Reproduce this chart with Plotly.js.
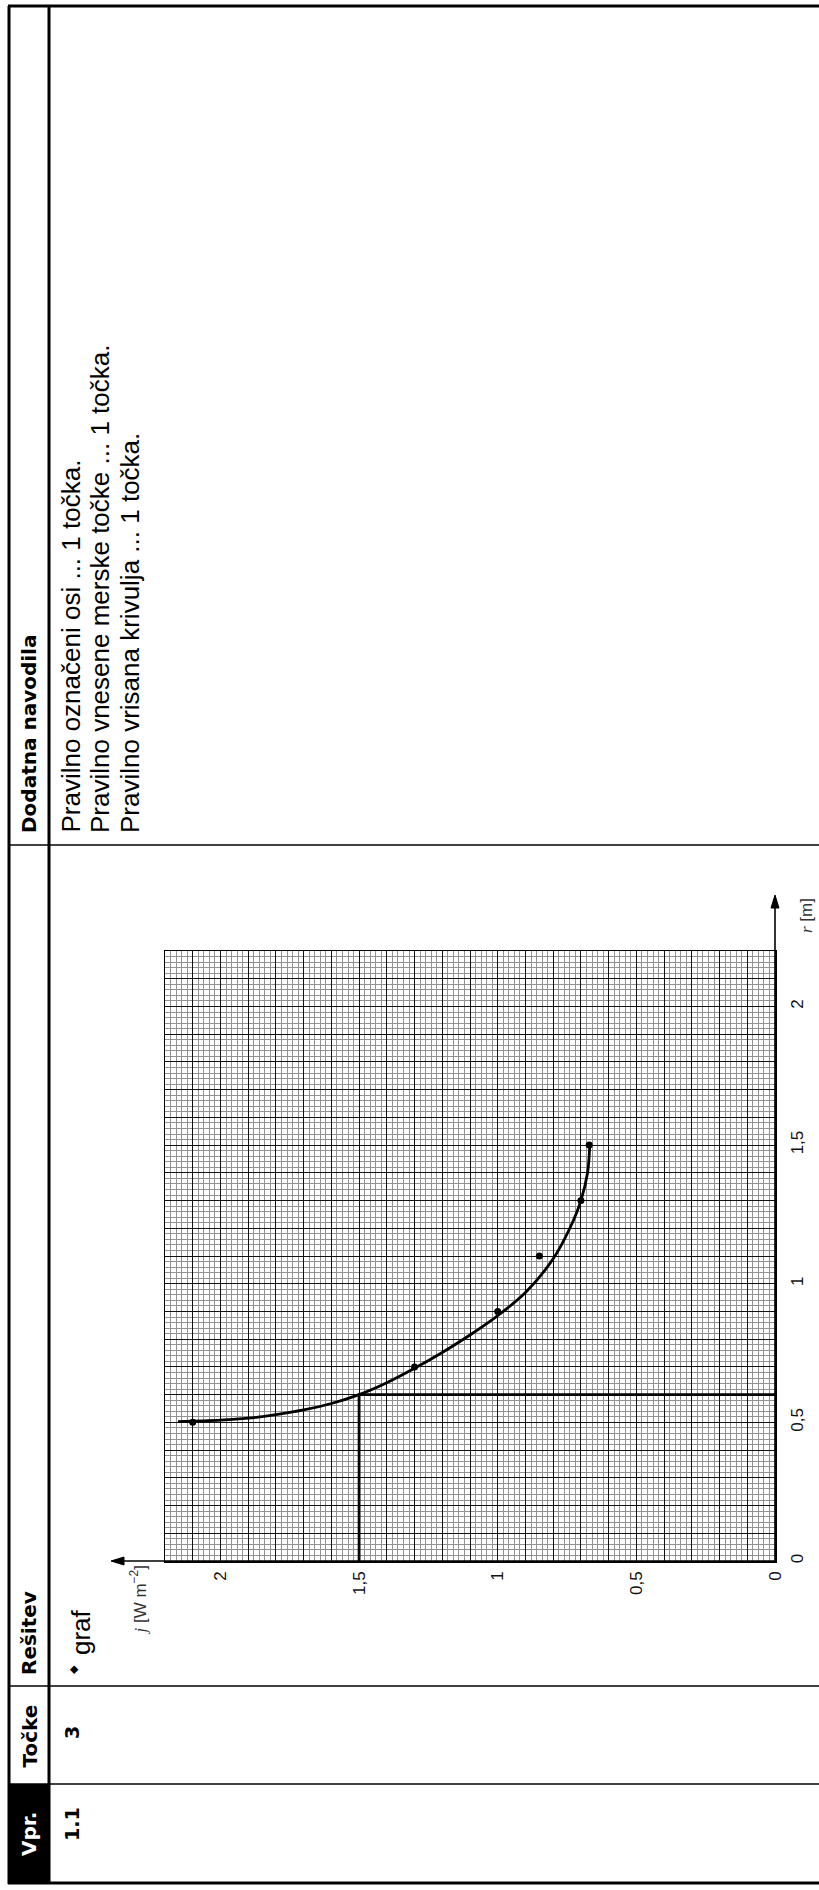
<!DOCTYPE html>
<html>
<head>
<meta charset="utf-8">
<script src="https://cdn.plot.ly/plotly-3.0.1.min.js"></script>
<style>
html,body{margin:0;padding:0;background:#fff;}
#chart{width:819px;height:1890px;}
</style>
</head>
<body>
<div id="chart"></div>
<script>
// ---------- data ----------
const pointR = [0.5, 0.7, 0.9, 1.1, 1.3, 1.5];
const pointJ = [2.1, 1.3, 1.0, 0.85, 0.7, 0.67];

const curveR = [0.503, 0.508, 0.515, 0.528, 0.545, 0.568, 0.60, 0.643, 0.695, 0.752, 0.815, 0.885, 0.968, 1.09, 1.20, 1.30, 1.40, 1.48, 1.504];
const curveJ = [2.153, 2.0, 1.9, 1.8, 1.7, 1.6, 1.5, 1.4, 1.3, 1.2, 1.1, 1.0, 0.9, 0.8, 0.74, 0.70, 0.676, 0.669, 0.668];

const guideR = [0, 0.6, 0.6];
const guideJ = [1.5, 1.5, 0];

const jTickVals = [0, 0.5, 1, 1.5, 2];
const jTickText = ['0', '0,5', '1', '1,5', '2'];
const rTickVals = [0, 0.5, 1, 1.5, 2];
const rTickText = ['0', '0,5', '1', '1,5', '2'];

const headerLabels = ['Vpr.', 'Točke', 'Rešitev', 'Dodatna navodila'];
const rowLabels = ['1.1', '3'];
const solutionLabel = 'graf';
const notes = [
  'Pravilno označeni osi ... 1 točka.',
  'Pravilno vnesene merske točke ... 1 točka.',
  'Pravilno vrisana krivulja ... 1 točka.'
];
const jTitle = '<span style="font-family:Liberation Serif"><i>j</i></span> [W m<sup>−2</sup>]';
const rTitle = '<span style="font-family:Liberation Serif"><i>r</i></span> [m]';

// ---------- layout helpers (pixel -> paper) ----------
const W = 819, H = 1890;
const px = v => v / W;
const py = v => 1 - v / H;

const SANS = 'Liberation Sans, Arial, sans-serif';
const BOLD = 'DejaVu Sans, sans-serif';

const traces = [
  {x: guideJ, y: guideR, mode: 'lines', line: {color: '#000', width: 2.8}, hoverinfo: 'skip', xaxis: 'x', yaxis: 'y'},
  {x: curveJ, y: curveR, mode: 'lines', line: {color: '#000', width: 2.8, shape: 'spline', smoothing: 1}, hoverinfo: 'skip', xaxis: 'x', yaxis: 'y'},
  {x: pointJ, y: pointR, mode: 'markers', marker: {color: '#000', size: 7}, hoverinfo: 'skip', xaxis: 'x2', yaxis: 'y2'}
];

const gridAxis = {
  dtick: 0.1, tick0: 0, showgrid: true, gridcolor: '#111', gridwidth: 1,
  minor: {dtick: 0.02, tick0: 0, showgrid: true, gridcolor: '#929292', gridwidth: 1},
  showticklabels: false, ticks: '', zeroline: false,
  showline: true, linecolor: '#000', linewidth: 1.5, mirror: true, fixedrange: true
};

const xDom = [px(165), px(775)];
const yDom = [py(1561), py(951)];

const ann = (text, x, y, o) => Object.assign({
  text: text, xref: 'paper', yref: 'paper', x: px(x), y: py(y),
  showarrow: false, textangle: -90, xanchor: 'center', yanchor: 'bottom'
}, o || {});

const headFont = {family: BOLD, size: 20, color: '#000', weight: 'bold'};
const bodyFont = {family: SANS, size: 26, color: '#000'};

const annotations = [
  ann(headerLabels[0], 29, 1858, {font: Object.assign({}, headFont, {color: '#fff'})}),
  ann(headerLabels[1], 29, 1770, {font: headFont}),
  ann(headerLabels[2], 29, 1677, {font: headFont}),
  ann(headerLabels[3], 29, 835, {font: headFont}),
  ann(rowLabels[0], 72, 1843, {font: Object.assign({}, headFont, {size: 19})}),
  ann(rowLabels[1], 72, 1733, {font: Object.assign({}, headFont, {size: 19}), yanchor: 'middle'}),
  ann('◆', 73, 1670, {font: {family: 'DejaVu Sans', size: 11, color: '#000'}, yanchor: 'middle'}),
  ann(solutionLabel, 81, 1657, {font: bodyFont}),
  ann(notes[0], 70, 835, {font: bodyFont}),
  ann(notes[1], 100, 835, {font: bodyFont}),
  ann(notes[2], 130, 835, {font: bodyFont}),
  ann(jTitle, 138, 1564, {font: {family: SANS, size: 17, color: '#333'}, yanchor: 'top'}),
  ann(rTitle, 806, 916, {font: {family: SANS, size: 17, color: '#333'}, yanchor: 'middle'})
];

const line = (x0, y0, x1, y1, w) => ({type: 'line', xref: 'paper', yref: 'paper',
  x0: px(x0), y0: py(y0), x1: px(x1), y1: py(y1), line: {color: '#000', width: w}});
const tri = (pts) => ({type: 'path', xref: 'paper', yref: 'paper',
  path: 'M' + pts.map(p => px(p[0]) + ',' + py(p[1])).join(' L') + ' Z',
  fillcolor: '#000', line: {color: '#000', width: 1}});

const shapes = [
  {type: 'rect', xref: 'paper', yref: 'paper', x0: px(8), x1: px(50), y0: py(1784), y1: py(1883), fillcolor: '#000', line: {width: 0}},
  line(9, 6, 9, 1884, 3),
  line(49, 6, 49, 1884, 3),
  line(8, 6, 819, 6, 3),
  line(8, 1883, 819, 1883, 3),
  line(9, 845, 819, 845, 1.3),
  line(9, 1686, 819, 1686, 1.3),
  line(9, 1784, 819, 1784, 1.3),
  // axis arrows
  line(775, 1561, 116, 1561, 1.6),
  line(775, 1561, 775, 900, 1.6),
  tri([[111, 1561], [124, 1557], [124, 1565]]),
  tri([[775, 895], [771, 908], [779, 908]])
];

const layout = {
  width: W, height: H,
  margin: {l: 0, r: 0, t: 0, b: 0, pad: 0},
  paper_bgcolor: '#fff', plot_bgcolor: '#fff',
  showlegend: false,
  font: {family: SANS, color: '#000'},
  xaxis: Object.assign({}, gridAxis, {domain: xDom, range: [2.2, 0], anchor: 'y'}),
  yaxis: Object.assign({}, gridAxis, {domain: yDom, range: [0, 2.2], anchor: 'x'}),
  xaxis2: {overlaying: 'x', anchor: 'y', side: 'bottom', range: [2.2, 0],
    tickmode: 'array', tickvals: jTickVals, ticktext: jTickText, tickangle: -90,
    showgrid: false, zeroline: false, showline: false, ticks: '',
    ticklabelstandoff: 6, tickfont: {family: SANS, size: 17, color: '#111'}, fixedrange: true},
  yaxis2: {overlaying: 'y', anchor: 'x', side: 'right', range: [0, 2.2],
    tickmode: 'array', tickvals: rTickVals, ticktext: rTickText, tickangle: -90,
    showgrid: false, zeroline: false, showline: false, ticks: '',
    ticklabelstandoff: 10, tickfont: {family: SANS, size: 17, color: '#111'}, fixedrange: true},
  shapes: shapes,
  annotations: annotations
};

Plotly.newPlot('chart', traces, layout, {staticPlot: true, displayModeBar: false});
</script>
</body>
</html>
